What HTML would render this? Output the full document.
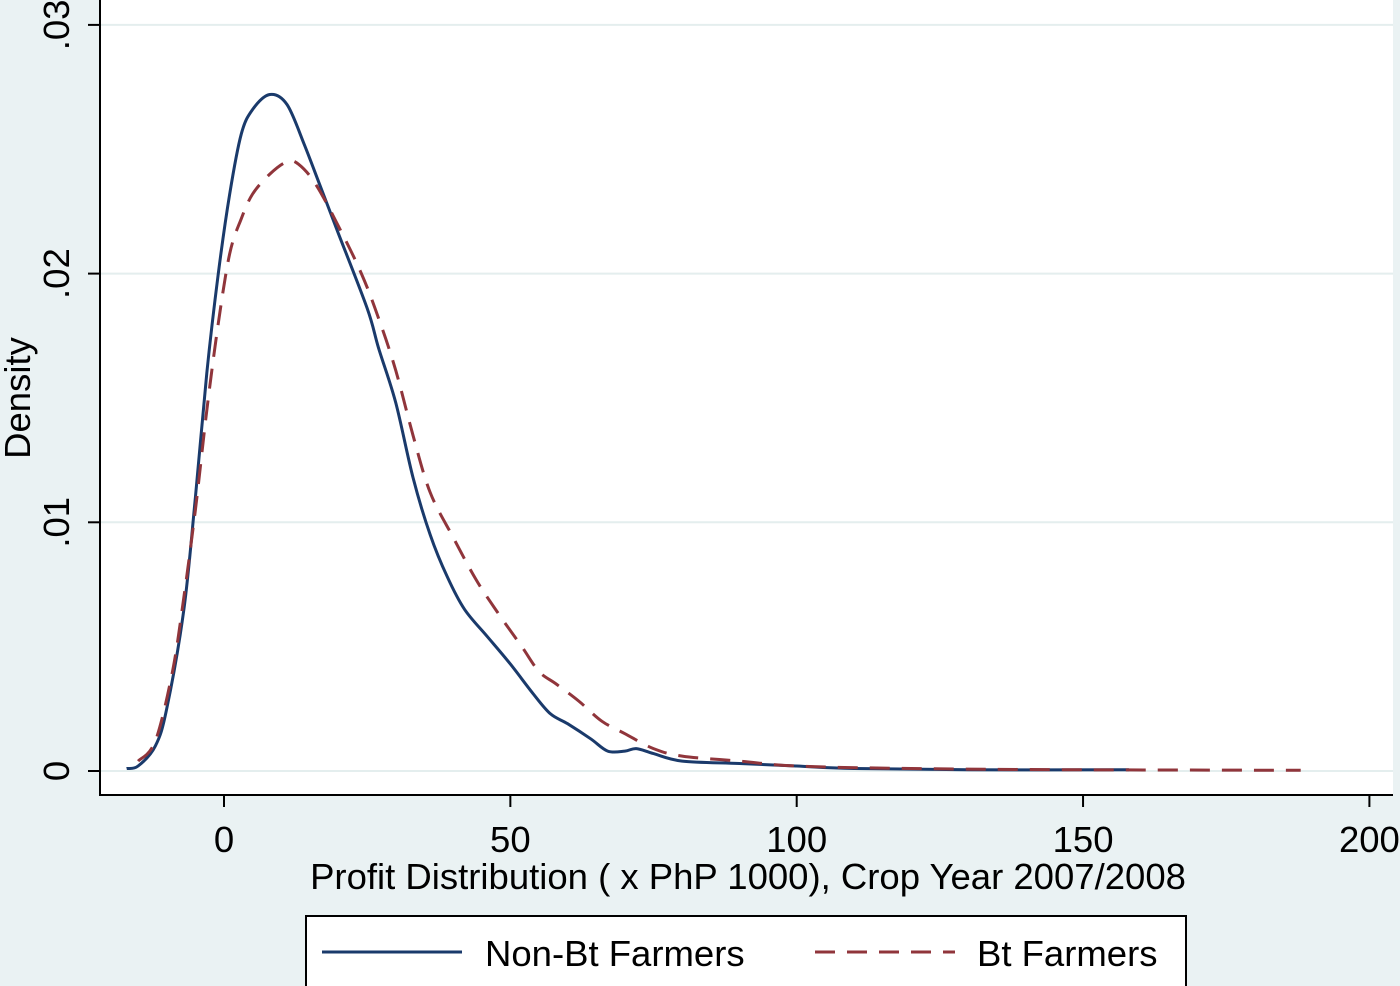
<!DOCTYPE html>
<html><head><meta charset="utf-8"><style>
body{margin:0;background:#eaf2f3;}
svg{display:block;font-family:"Liberation Sans",sans-serif;}
</style></head><body>
<svg id="chart" width="1400" height="986">
<rect x="0" y="0" width="1400" height="986" fill="#eaf2f3"/>
<rect x="100" y="0" width="1293" height="795" fill="#ffffff"/>
<g id="grid"></g><g id="series"></g><g id="axes"></g>
<rect x="306" y="916" width="880" height="72" fill="#ffffff" stroke="#000" stroke-width="2"/>
<line x1="322" y1="952" x2="462" y2="952" stroke="#1a3a6b" stroke-width="3"/>
<text x="485" y="966" font-size="36.5">Non-Bt Farmers</text>
<line x1="815" y1="952" x2="955" y2="952" stroke="#90353b" stroke-width="3" stroke-dasharray="20,12"/>
<text x="977" y="966" font-size="36.5">Bt Farmers</text>
<text x="748" y="889" font-size="36.5" text-anchor="middle">Profit Distribution ( x PhP 1000), Crop Year 2007/2008</text>
<text transform="translate(30,398) rotate(-90)" font-size="36.5" text-anchor="middle">Density</text>
</svg>
<script>
const xTicks=[0,50,100,150,200];
const yTicks=[0,0.01,0.02,0.03];
const yTickLabels=["0",".01",".02",".03"];
const nonBtX=[-17,-15,-12,-10,-7,-5,-3,-1,1,3,5,8,11,14,17,20,25,27,30,33,36,39,42,46,50,54,57,60,64,67,70,72,75,80,90,100,110,130,158];
const nonBtY=[0.0001,0.0002,0.001,0.0025,0.0065,0.011,0.016,0.020,0.0232,0.0256,0.0266,0.0272,0.0268,0.0252,0.0234,0.0216,0.0186,0.0170,0.0148,0.0118,0.0095,0.0078,0.0065,0.0054,0.0043,0.0031,0.0023,0.0019,0.0013,0.0008,0.0008,0.0009,0.0007,0.0004,0.0003,0.0002,0.0001,0.00005,0.00005];
const btX=[-15,-12,-9,-7,-5,-3,-1,1,3,5,8,11,13,16,20,24,27,30,33,36,40,44,48,52,55,58,62,66,70,75,80,90,100,120,150,188];
const btY=[0.0004,0.0012,0.004,0.007,0.0105,0.0145,0.018,0.0208,0.0222,0.0232,0.0240,0.0245,0.0244,0.0236,0.0219,0.0200,0.0182,0.0161,0.0135,0.0112,0.0094,0.0077,0.0063,0.0050,0.0040,0.0035,0.0028,0.0020,0.0015,0.0009,0.0006,0.0004,0.0002,0.0001,0.00005,0.00003];
const NS="http://www.w3.org/2000/svg";
const sx=v=>224+v*5.727;
const sy=v=>771-v*24870;
function mk(t,a,p){const e=document.createElementNS(NS,t);for(const k in a)e.setAttribute(k,a[k]);p.appendChild(e);return e;}
const grid=document.getElementById('grid'),axes=document.getElementById('axes'),ser=document.getElementById('series');
yTicks.forEach((t,i)=>{
 const g=mk('line',{x1:100,x2:1393,y1:sy(t),y2:sy(t),stroke:'#e4eeee','stroke-width':2},grid);
 
 
 const tk=mk('line',{x1:88,x2:100,y1:sy(t),y2:sy(t),stroke:'#000','stroke-width':2},axes);
 
 
 const tx=mk('text',{transform:`translate(69,${sy(t)}) rotate(-90)`,'font-size':36.5,'text-anchor':'middle'},axes);
 tx.textContent=yTickLabels[i];
 
 
});
xTicks.forEach(t=>{
 const tk=mk('line',{x1:sx(t),x2:sx(t),y1:795,y2:807,stroke:'#000','stroke-width':2},axes);
 
 
 const tx=mk('text',{x:sx(t),y:852,'font-size':36.5,'text-anchor':'middle'},axes);
 tx.textContent=String(t);
 
 
});
const ya=mk('line',{x1:100,x2:100,y1:0,y2:796,stroke:'#000','stroke-width':2},axes);


const xa=mk('line',{x1:99,x2:1393,y1:795,y2:795,stroke:'#000','stroke-width':2},axes);


function path(xs,ys){
 const P=xs.map((x,i)=>[sx(x),sy(ys[i])]);
 let d='M'+P[0][0].toFixed(1)+','+P[0][1].toFixed(1);
 for(let i=0;i<P.length-1;i++){
  const p0=P[Math.max(0,i-1)],p1=P[i],p2=P[i+1],p3=P[Math.min(P.length-1,i+2)];
  const c1=[p1[0]+(p2[0]-p0[0])/6,p1[1]+(p2[1]-p0[1])/6];
  const c2=[p2[0]-(p3[0]-p1[0])/6,p2[1]-(p3[1]-p1[1])/6];
  d+=` C${c1[0].toFixed(1)},${c1[1].toFixed(1)} ${c2[0].toFixed(1)},${c2[1].toFixed(1)} ${p2[0].toFixed(1)},${p2[1].toFixed(1)}`;
 }
 return d;
}
const p1=mk('path',{d:path(nonBtX,nonBtY),fill:'none',stroke:'#1a3a6b','stroke-width':3,'stroke-linejoin':'round'},ser);


const p2=mk('path',{d:path(btX,btY),fill:'none',stroke:'#90353b','stroke-width':3,'stroke-dasharray':'20,12'},ser);


</script>
</body></html>
